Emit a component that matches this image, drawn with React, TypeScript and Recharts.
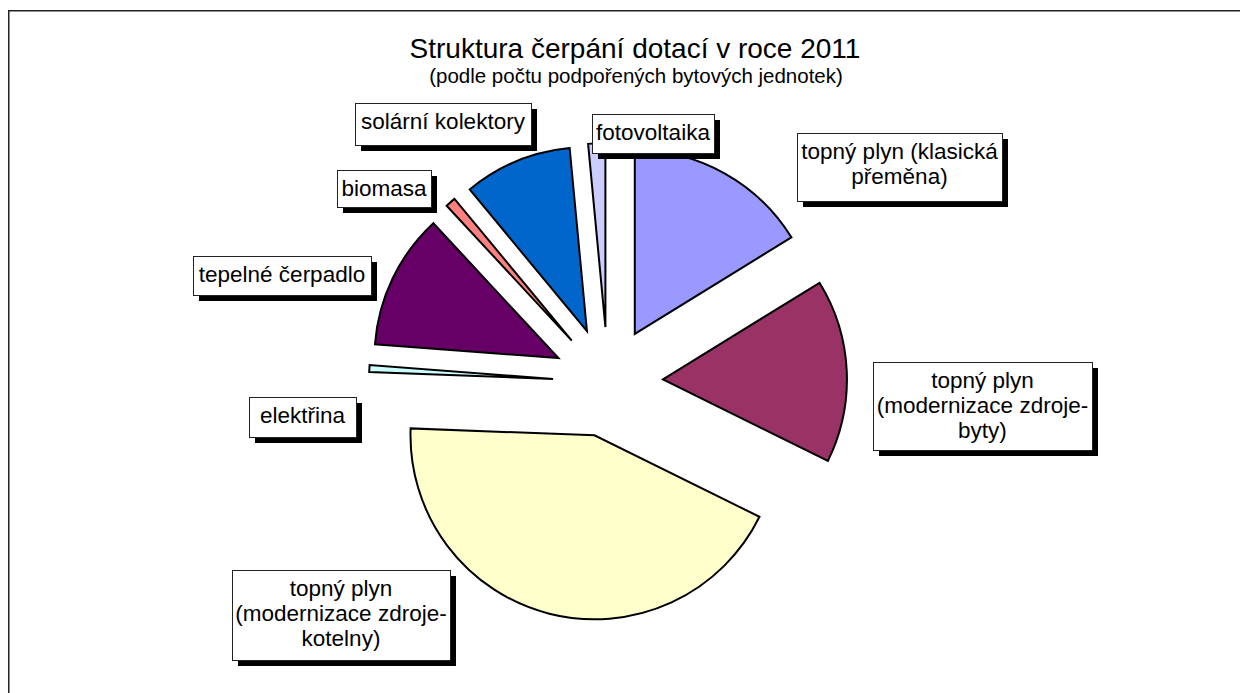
import React from 'react';
import { PieChart, Pie, Cell } from 'recharts';

// ---------- data ----------
const categories: string[] = [
  'topný plyn (klasická přeměna)',
  'topný plyn (modernizace zdroje-byty)',
  'topný plyn (modernizace zdroje-kotelny)',
  'elektřina',
  'tepelné čerpadlo',
  'biomasa',
  'solární kolektory',
  'fotovoltaika',
];
// share of supported dwelling units, %
const shares: number[] = [16.2, 16.1, 43.3, 0.6, 11.9, 0.9, 9.5, 1.5];
const labelLines: string[][] = [
  ['topný plyn (klasická', 'přeměna)'],
  ['topný plyn', '(modernizace zdroje-', 'byty)'],
  ['topný plyn', '(modernizace zdroje-', 'kotelny)'],
  ['elektřina'],
  ['tepelné čerpadlo'],
  ['biomasa'],
  ['solární kolektory'],
  ['fotovoltaika'],
];
const titleText = 'Struktura čerpání dotací v roce 2011';
const subtitleText = '(podle počtu podpořených bytových jednotek)';

// ---------- style / layout ----------
const colors = ['#9999FF', '#993366', '#FFFFCC', '#CCFFFF', '#660066', '#FF8080', '#0066CC', '#CCCCFF'];
const W = 1240;
const H = 685;
const CX = 600;
const CY = 374;
const R = 184;
const EXPLODE = 55;
const FONT = '"Liberation Sans", Arial, Helvetica, sans-serif';
const LABEL_FONT_SIZE = 22.5;
const LINE_GAP = 25;
const SHADOW = 6;
// label box: centre offset from exploded arc midpoint, and box size
const labelBoxes = [
  { dx: 175, dy: -6, w: 205, h: 68 },
  { dx: 136, dy: 35, w: 219, h: 88 },
  { dx: -208, dy: 1, w: 218, h: 90 },
  { dx: -67, dy: 48.5, w: 107, h: 40 },
  { dx: -111, dy: -3, w: 178, h: 39 },
  { dx: -67, dy: -14, w: 94, h: 37 },
  { dx: -74, dy: -37, w: 176, h: 42 },
  { dx: 56, dy: -10, w: 122, h: 39 },
];

const data = categories.map((name, i) => ({ name, value: shares[i] }));
const RAD = Math.PI / 180;
const total = shares.reduce((a, b) => a + b, 0);
const midAngles: number[] = (() => {
  let cum = 0;
  return shares.map((v) => {
    const m = 90 - (360 * (cum + v / 2)) / total;
    cum += v;
    return m;
  });
})();

const renderLabel = (props: any) => {
  const { cx, cy, midAngle, outerRadius, index } = props;
  const box = labelBoxes[index];
  const rr = outerRadius + EXPLODE;
  const ax = cx + rr * Math.cos(-midAngle * RAD);
  const ay = cy + rr * Math.sin(-midAngle * RAD);
  const bx = Math.round(ax + box.dx - box.w / 2);
  const by = Math.round(ay + box.dy - box.h / 2);
  const lines = labelLines[index];
  return (
    <g key={`lbl-${index}`}>
      <rect x={bx + SHADOW} y={by + SHADOW} width={box.w} height={box.h} fill="#000" />
      <rect x={bx + 0.5} y={by + 0.5} width={box.w} height={box.h} fill="#fff" stroke="#222" strokeWidth={1} />
      {lines.map((ln, k) => (
        <text
          key={k}
          x={bx + box.w / 2}
          y={by + 26 + k * LINE_GAP}
          textAnchor="middle"
          fontFamily={FONT}
          fontSize={LABEL_FONT_SIZE}
          fill="#000"
        >
          {ln}
        </text>
      ))}
    </g>
  );
};

export default function App() {
  return (
    <div style={{ position: 'relative', width: W, height: H, background: '#fff' }}>
      <PieChart width={W} height={H} margin={{ top: 0, right: 0, bottom: 0, left: 0 }}>
        {data.map((_, i) => {
          const cx = CX + EXPLODE * Math.cos(midAngles[i] * RAD);
          const cy = CY - EXPLODE * Math.sin(midAngles[i] * RAD);
          return (
            <Pie
              key={`slice-${i}`}
              data={data}
              dataKey="value"
              nameKey="name"
              cx={cx}
              cy={cy}
              innerRadius={0}
              outerRadius={R}
              startAngle={90}
              endAngle={-270}
              isAnimationActive={false}
              labelLine={false}
              stroke="none"
            >
              {data.map((d, j) => (
                <Cell
                  key={`c-${i}-${j}`}
                  fill={j === i ? colors[j] : 'none'}
                  stroke={j === i ? '#000' : 'none'}
                  strokeWidth={j === i ? 2 : 0}
                />
              ))}
            </Pie>
          );
        })}
        <Pie
          key="labels"
          data={data}
          dataKey="value"
          nameKey="name"
          cx={CX}
          cy={CY}
          innerRadius={0}
          outerRadius={R}
          startAngle={90}
          endAngle={-270}
          isAnimationActive={false}
          labelLine={false}
          label={renderLabel}
          fill="none"
          stroke="none"
        >
          {data.map((d, j) => (
            <Cell key={`l-${j}`} fill="none" stroke="none" />
          ))}
        </Pie>
      </PieChart>
      <svg
        width={W}
        height={H}
        style={{ position: 'absolute', left: 0, top: 0, pointerEvents: 'none' }}
      >
        <line x1={0} y1={2.75} x2={1232} y2={2.75} stroke="#222" strokeWidth={1.5} />
        <line x1={0.75} y1={2} x2={0.75} y2={H} stroke="#222" strokeWidth={1.5} />
        <text x={627} y={50} textAnchor="middle" fontFamily={FONT} fontSize={28} fill="#000">
          {titleText}
        </text>
        <text x={628} y={75} textAnchor="middle" fontFamily={FONT} fontSize={20.5} fill="#000">
          {subtitleText}
        </text>
      </svg>
    </div>
  );
}
